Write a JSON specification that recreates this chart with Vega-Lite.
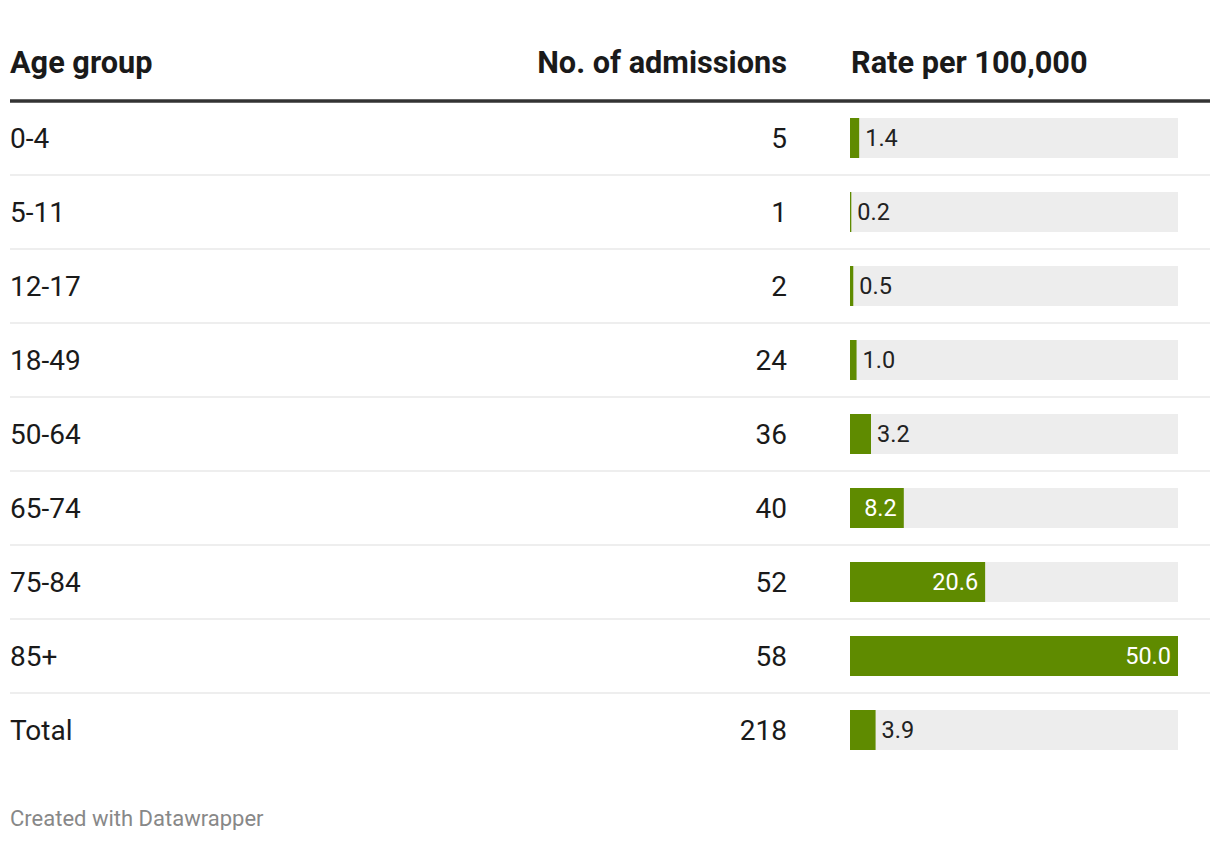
{
  "$schema": "https://vega.github.io/schema/vega-lite/v6.json",
  "padding": {"left": 8, "right": 10, "top": 0, "bottom": 0},
  "bounds": "flush",
  "spacing": 0,
  "background": "#ffffff",
  "config": {
    "view": {"stroke": null},
    "text": {"font": "Roboto"},
    "concat": {"spacing": 0}
  },
  "title": {
    "text": "Created with Datawrapper",
    "orient": "bottom",
    "anchor": "start",
    "frame": "group",
    "font": "Roboto",
    "fontSize": 22,
    "fontWeight": "normal",
    "color": "#888888",
    "offset": 29
  },
  "datasets": {
    "rows": [
      {"row": 0, "age": "0-4", "admissions": 5, "rate": 1.4},
      {"row": 1, "age": "5-11", "admissions": 1, "rate": 0.2},
      {"row": 2, "age": "12-17", "admissions": 2, "rate": 0.5},
      {"row": 3, "age": "18-49", "admissions": 24, "rate": 1.0},
      {"row": 4, "age": "50-64", "admissions": 36, "rate": 3.2},
      {"row": 5, "age": "65-74", "admissions": 40, "rate": 8.2},
      {"row": 6, "age": "75-84", "admissions": 52, "rate": 20.6},
      {"row": 7, "age": "85+", "admissions": 58, "rate": 50.0},
      {"row": 8, "age": "Total", "admissions": 218, "rate": 3.9}
    ],
    "lines": [
      {"pos": -0.5, "kind": "header"},
      {"pos": 0.5, "kind": "row"},
      {"pos": 1.5, "kind": "row"},
      {"pos": 2.5, "kind": "row"},
      {"pos": 3.5, "kind": "row"},
      {"pos": 4.5, "kind": "row"},
      {"pos": 5.5, "kind": "row"},
      {"pos": 6.5, "kind": "row"},
      {"pos": 7.5, "kind": "row"}
    ],
    "header": [
      {"col": "age", "label": "Age group"},
      {"col": "adm", "label": "No. of admissions"},
      {"col": "rate", "label": "Rate per 100,000"}
    ]
  },
  "hconcat": [
    {
      "width": 300,
      "height": 780,
      "layer": [
        {
          "data": {"name": "lines"},
          "transform": [{"filter": "datum.kind === 'row'"}],
          "mark": {"type": "rule", "color": "#e8e8e8", "strokeWidth": 1.5},
          "encoding": {"y": {"field": "pos", "type": "quantitative", "scale": {"domain": [-1.8649, 8.6757], "reverse": true, "nice": false, "zero": false, "padding": 0}, "axis": null}}
        },
        {
          "data": {"name": "lines"},
          "transform": [{"filter": "datum.kind === 'header'"}],
          "mark": {"type": "rule", "color": "#333333", "strokeWidth": 3.5},
          "encoding": {"y": {"field": "pos", "type": "quantitative", "axis": null}}
        },
        {
          "data": {"name": "rows"},
          "mark": {"type": "text", "align": "left", "baseline": "middle", "fontSize": 28, "dy": 2, "color": "#1a1a1a"},
          "encoding": {
            "y": {"field": "row", "type": "quantitative", "axis": null},
            "x": {"datum": 0, "type": "quantitative", "scale": {"domain": [0, 1], "nice": false}, "axis": null},
            "text": {"field": "age"}
          }
        },
        {
          "data": {"name": "header"},
          "transform": [{"filter": "datum.col === 'age'"}],
          "mark": {"type": "text", "align": "left", "baseline": "middle", "fontSize": 30.7, "fontWeight": "bold", "color": "#1a1a1a"},
          "encoding": {
            "y": {"datum": -1, "type": "quantitative", "axis": null},
            "x": {"datum": 0, "type": "quantitative", "axis": null},
            "text": {"field": "label"}
          }
        }
      ]
    },
    {
      "width": 477,
      "height": 780,
      "layer": [
        {
          "data": {"name": "lines"},
          "transform": [{"filter": "datum.kind === 'row'"}],
          "mark": {"type": "rule", "color": "#e8e8e8", "strokeWidth": 1.5},
          "encoding": {"y": {"field": "pos", "type": "quantitative", "scale": {"domain": [-1.8649, 8.6757], "reverse": true, "nice": false, "zero": false, "padding": 0}, "axis": null}}
        },
        {
          "data": {"name": "lines"},
          "transform": [{"filter": "datum.kind === 'header'"}],
          "mark": {"type": "rule", "color": "#333333", "strokeWidth": 3.5},
          "encoding": {"y": {"field": "pos", "type": "quantitative", "axis": null}}
        },
        {
          "data": {"name": "rows"},
          "mark": {"type": "text", "align": "right", "baseline": "middle", "fontSize": 28, "dy": 2, "color": "#1a1a1a"},
          "encoding": {
            "y": {"field": "row", "type": "quantitative", "axis": null},
            "x": {"datum": 1, "type": "quantitative", "scale": {"domain": [0, 1], "nice": false}, "axis": null},
            "text": {"field": "admissions"}
          }
        },
        {
          "data": {"name": "header"},
          "transform": [{"filter": "datum.col === 'adm'"}],
          "mark": {"type": "text", "align": "right", "baseline": "middle", "fontSize": 30.7, "fontWeight": "bold", "color": "#1a1a1a"},
          "encoding": {
            "y": {"datum": -1, "type": "quantitative", "axis": null},
            "x": {"datum": 1, "type": "quantitative", "axis": null},
            "text": {"field": "label"}
          }
        }
      ]
    },
    {
      "width": 63,
      "height": 780,
      "layer": [
        {
          "data": {"name": "lines"},
          "transform": [{"filter": "datum.kind === 'row'"}],
          "mark": {"type": "rule", "color": "#e8e8e8", "strokeWidth": 1.5},
          "encoding": {"y": {"field": "pos", "type": "quantitative", "scale": {"domain": [-1.8649, 8.6757], "reverse": true, "nice": false, "zero": false, "padding": 0}, "axis": null}}
        },
        {
          "data": {"name": "lines"},
          "transform": [{"filter": "datum.kind === 'header'"}],
          "mark": {"type": "rule", "color": "#333333", "strokeWidth": 3.5},
          "encoding": {"y": {"field": "pos", "type": "quantitative", "axis": null}}
        }
      ]
    },
    {
      "width": 328,
      "height": 780,
      "layer": [
        {
          "data": {"name": "lines"},
          "transform": [{"filter": "datum.kind === 'row'"}],
          "mark": {"type": "rule", "color": "#e8e8e8", "strokeWidth": 1.5},
          "encoding": {"y": {"field": "pos", "type": "quantitative", "scale": {"domain": [-1.8649, 8.6757], "reverse": true, "nice": false, "zero": false, "padding": 0}, "axis": null}}
        },
        {
          "data": {"name": "lines"},
          "transform": [{"filter": "datum.kind === 'header'"}],
          "mark": {"type": "rule", "color": "#333333", "strokeWidth": 3.5},
          "encoding": {"y": {"field": "pos", "type": "quantitative", "axis": null}}
        },
        {
          "data": {"name": "rows"},
          "mark": {"type": "bar", "orient": "horizontal", "height": 40, "color": "#ededed"},
          "encoding": {
            "y": {"field": "row", "type": "quantitative", "axis": null},
            "x": {"datum": 50, "type": "quantitative", "scale": {"domain": [0, 50], "nice": false, "zero": true, "padding": 0}, "axis": null}
          }
        },
        {
          "data": {"name": "rows"},
          "mark": {"type": "bar", "orient": "horizontal", "height": 40, "color": "#5f8b00"},
          "encoding": {
            "y": {"field": "row", "type": "quantitative", "axis": null},
            "x": {"field": "rate", "type": "quantitative", "stack": null, "axis": null}
          }
        },
        {
          "data": {"name": "rows"},
          "transform": [{"filter": "datum.rate >= 5"}],
          "mark": {"type": "text", "align": "right", "baseline": "middle", "fontSize": 23.5, "dx": -7, "dy": 1, "color": "#ffffff"},
          "encoding": {
            "y": {"field": "row", "type": "quantitative", "axis": null},
            "x": {"field": "rate", "type": "quantitative", "axis": null},
            "text": {"field": "rate", "type": "quantitative", "format": ".1f"}
          }
        },
        {
          "data": {"name": "rows"},
          "transform": [{"filter": "datum.rate < 5"}],
          "mark": {"type": "text", "align": "left", "baseline": "middle", "fontSize": 23.5, "dx": 6, "dy": 1, "color": "#222222"},
          "encoding": {
            "y": {"field": "row", "type": "quantitative", "axis": null},
            "x": {"field": "rate", "type": "quantitative", "axis": null},
            "text": {"field": "rate", "type": "quantitative", "format": ".1f"}
          }
        },
        {
          "data": {"name": "header"},
          "transform": [{"filter": "datum.col === 'rate'"}],
          "mark": {"type": "text", "align": "left", "baseline": "middle", "fontSize": 30.7, "fontWeight": "bold", "color": "#1a1a1a", "dx": 1},
          "encoding": {
            "y": {"datum": -1, "type": "quantitative", "axis": null},
            "x": {"datum": 0, "type": "quantitative", "axis": null},
            "text": {"field": "label"}
          }
        }
      ]
    },
    {
      "width": 32,
      "height": 780,
      "layer": [
        {
          "data": {"name": "lines"},
          "transform": [{"filter": "datum.kind === 'row'"}],
          "mark": {"type": "rule", "color": "#e8e8e8", "strokeWidth": 1.5},
          "encoding": {"y": {"field": "pos", "type": "quantitative", "scale": {"domain": [-1.8649, 8.6757], "reverse": true, "nice": false, "zero": false, "padding": 0}, "axis": null}}
        },
        {
          "data": {"name": "lines"},
          "transform": [{"filter": "datum.kind === 'header'"}],
          "mark": {"type": "rule", "color": "#333333", "strokeWidth": 3.5},
          "encoding": {"y": {"field": "pos", "type": "quantitative", "axis": null}}
        }
      ]
    }
  ]
}
